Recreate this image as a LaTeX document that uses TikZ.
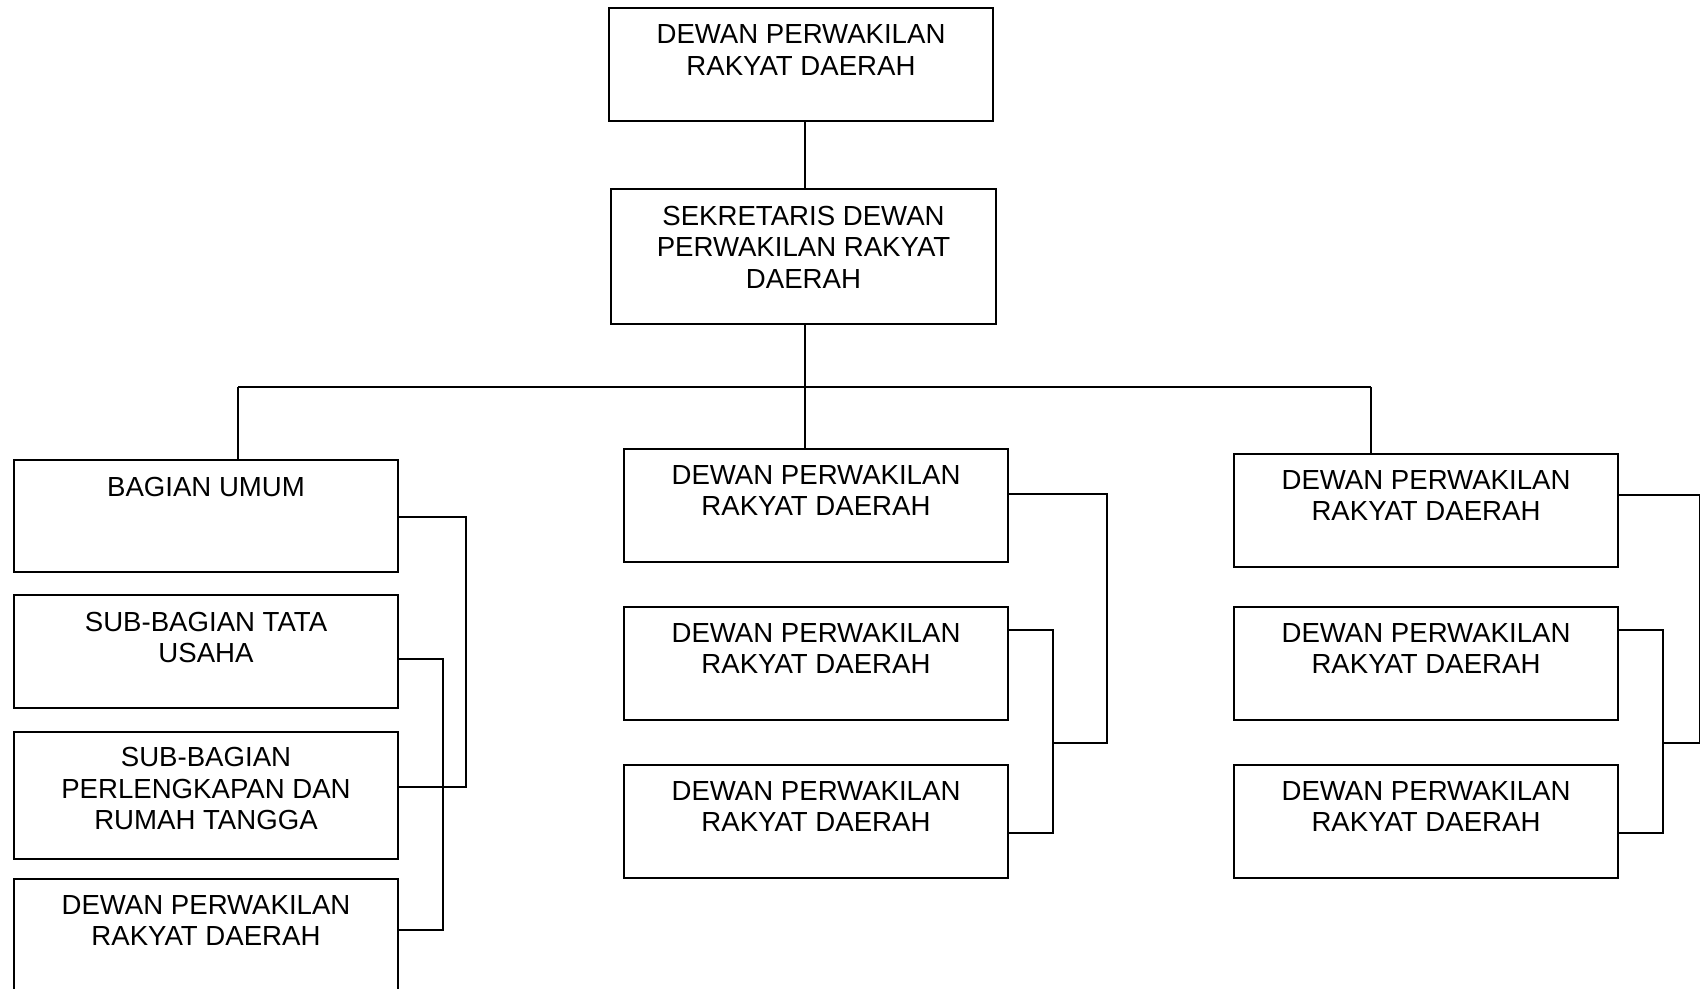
\documentclass[tikz,border=0pt]{standalone}
\usepackage{fontspec}
\setmainfont{Liberation Sans}
\begin{document}
\begin{tikzpicture}[x=1pt,y=-1pt,
  orgbox/.style={draw, line width=2pt, inner sep=0pt, outer sep=0pt, minimum width=384pt, minimum height=113pt},
  lbl/.style={anchor=north, align=center, inner sep=0pt, font=\fontsize{27.6}{31.5}\selectfont},
  conn/.style={line width=1.8pt}]
\useasboundingbox (0,0) rectangle (1700,988);
% boxes
\node[orgbox] (A) at (801,64.5) {};
\node[orgbox, minimum width=385pt, minimum height=135pt] (S) at (803.5,256.5) {};
\node[orgbox, minimum height=112pt] (L1) at (206,516) {};
\node[orgbox] (L2) at (206,651.5) {};
\node[orgbox, minimum height=127pt] (L3) at (206,795.5) {};
\node[orgbox] (L4) at (206,935.5) {};
\node[orgbox] (M1) at (816,505.5) {};
\node[orgbox] (M2) at (816,663.5) {};
\node[orgbox] (M3) at (816,821.5) {};
\node[orgbox] (R1) at (1426,510.5) {};
\node[orgbox] (R2) at (1426,663.5) {};
\node[orgbox] (R3) at (1426,821.5) {};
% texts
\node[lbl] (At) at ([yshift=-16.7pt]A.north) {DEWAN PERWAKILAN\\RAKYAT DAERAH};
\node[lbl] (St) at ([yshift=-16.7pt]S.north) {SEKRETARIS DEWAN\\PERWAKILAN RAKYAT\\DAERAH};
\node[lbl] (L1t) at ([yshift=-16.7pt]L1.north) {BAGIAN UMUM};
\node[lbl] (L2t) at ([yshift=-16.7pt]L2.north) {SUB-BAGIAN TATA\\USAHA};
\node[lbl] (L3t) at ([yshift=-15.5pt]L3.north) {SUB-BAGIAN\\PERLENGKAPAN DAN\\RUMAH TANGGA};
\node[lbl] (L4t) at ([yshift=-16.2pt]L4.north) {DEWAN PERWAKILAN\\RAKYAT DAERAH};
\node[lbl] (M1t) at ([yshift=-16.2pt]M1.north) {DEWAN PERWAKILAN\\RAKYAT DAERAH};
\node[lbl] (M2t) at ([yshift=-16.2pt]M2.north) {DEWAN PERWAKILAN\\RAKYAT DAERAH};
\node[lbl] (M3t) at ([yshift=-16.2pt]M3.north) {DEWAN PERWAKILAN\\RAKYAT DAERAH};
\node[lbl] (R1t) at ([yshift=-16.2pt]R1.north) {DEWAN PERWAKILAN\\RAKYAT DAERAH};
\node[lbl] (R2t) at ([yshift=-16.2pt]R2.north) {DEWAN PERWAKILAN\\RAKYAT DAERAH};
\node[lbl] (R3t) at ([yshift=-16.2pt]R3.north) {DEWAN PERWAKILAN\\RAKYAT DAERAH};
% bus
\coordinate (bL) at (238,387);
\coordinate (bM) at (805,387);
\coordinate (bR) at (1371,387);
\draw[conn] (A.south -| bM) -- (S.north -| bM);
\draw[conn] (S.south -| bM) -- (M1.north -| bM);
\draw[conn] (bL) -- (bR);
\draw[conn] (bL) -- (L1.north -| bL);
\draw[conn] (bR) -- (R1.north -| bR);
% left brackets
\coordinate (l1a) at (466,517);
\coordinate (l1b) at (466,787);
\coordinate (l2a) at (443,659);
\coordinate (l2b) at (443,930);
\draw[conn] (L1.east |- l1a) -- (l1a) -- (l1b) -- (L3.east |- l1b);
\draw[conn] (L2.east |- l2a) -- (l2a) -- (l2b) -- (L4.east |- l2b);
% middle brackets
\coordinate (m1a) at (1107,494);
\coordinate (m1b) at (1107,743);
\coordinate (m2a) at (1053,630);
\coordinate (m2b) at (1053,833);
\coordinate (m2c) at (1053,743);
\draw[conn] (M1.east |- m1a) -- (m1a) -- (m1b) -- (m2c);
\draw[conn] (M2.east |- m2a) -- (m2a) -- (m2b) -- (M3.east |- m2b);
% right brackets
\coordinate (r1a) at (1700,495);
\coordinate (r1b) at (1700,743);
\coordinate (r2a) at (1663,630);
\coordinate (r2b) at (1663,833);
\coordinate (r2c) at (1663,743);
\draw[conn] (R1.east |- r1a) -- (r1a) -- (r1b) -- (r2c);
\draw[conn] (R2.east |- r2a) -- (r2a) -- (r2b) -- (R3.east |- r2b);
\end{tikzpicture}
\end{document}
